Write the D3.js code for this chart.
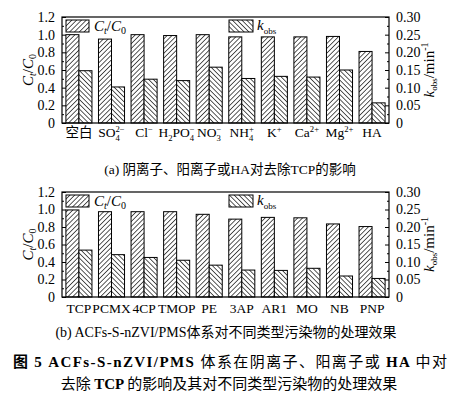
<!DOCTYPE html>
<html><head><meta charset="utf-8">
<script src="https://cdn.jsdelivr.net/npm/d3@7"></script>
<style>
body{margin:0;background:#fff;}
svg{display:block;}
</style></head>
<body>
<svg id="c" width="456" height="407"></svg>
<script>
// ---- data ----
const catsA = ["空白","SO4","Cl","H2PO4","NO3","NH4","K","Ca","Mg","HA"];
const labelsA = [
  {b:"空白"},{b:"SO",sub:"4",sup:"2−"},{b:"Cl",sup:"−"},{b:"H",sub:"2",b2:"PO",sub2:"4",sup2:"−"},
  {b:"NO",sub:"3",sup:"−"},{b:"NH",sub:"4",sup:"+"},{b:"K",sup:"+"},{b:"Ca",sup:"2+"},{b:"Mg",sup:"2+"},{b:"HA"}
];
const ctA   = [1.00,0.95,1.00,0.99,1.00,0.975,0.975,0.975,0.98,0.81];
const kobsA = [0.148,0.102,0.124,0.120,0.158,0.126,0.132,0.130,0.150,0.057];

const catsB = ["TCP","PCMX","4CP","TMOP","PE","3AP","AR1","MO","NB","PNP"];
const ctB   = [0.995,0.975,0.975,0.975,0.945,0.89,0.91,0.905,0.835,0.805];
const kobsB = [0.134,0.121,0.113,0.105,0.091,0.077,0.076,0.082,0.060,0.053];

const leftTicks  = [0,0.2,0.4,0.6,0.8,1.0,1.2];
const rightTicks = [0,0.05,0.10,0.15,0.20,0.25,0.30];

const SERIF = "'Liberation Serif','Times New Roman',serif";
const CJK = "'Liberation Serif','Noto Sans CJK SC',serif";
const CJKS = "'Noto Sans CJK SC',sans-serif";

const svg = d3.select("#c");
const defs = svg.append("defs");
function pat(id, dir){
  const p = defs.append("pattern").attr("id",id).attr("patternUnits","userSpaceOnUse")
    .attr("width",3.4).attr("height",3.4)
    .attr("patternTransform", `rotate(${dir})`);
  p.append("rect").attr("width",3.4).attr("height",3.4).attr("fill","#fff");
  p.append("line").attr("x1",0).attr("y1",0).attr("x2",0).attr("y2",3.4)
    .attr("stroke","#000").attr("stroke-width",1.3);
}
pat("hR",45);   // ////
pat("hL",-45);  // \\\\

function T(sel){ return sel.style("font-family", SERIF).attr("fill","#000"); }

function addLabel(g, x, y, lab, size){
  const grp = g.append("g");
  let cx = 0;
  function seg(txt, dy, fs){
    const t = grp.append("text").attr("x",cx).attr("y",dy).style("font-size",fs+"px")
      .style("font-family", CJK).text(txt);
    return t.node().getComputedTextLength();
  }
  function piece(b, sub, sup){
    if(b){ cx += seg(b,0,size); }
    let w = 0;
    if(sub){ w = Math.max(w, seg(sub, 4, size*0.64)); }
    if(sup){ w = Math.max(w, seg(sup, -5, size*0.64)); }
    cx += w;
  }
  piece(lab.b, lab.sub, lab.sup);
  if(lab.b2) piece(lab.b2, lab.sub2, lab.sup2);
  grp.attr("transform", `translate(${x - cx/2},${y})`);
}

function panel(top, bottom, cats, labels, ct, kobs, labelY, labelSize){
  const L = 62, R = 389;
  const x = d3.scaleBand().domain(cats).range([L,R]).paddingInner(0.2).paddingOuter(0.12);
  const x2 = d3.scaleBand().domain(["ct","k"]).range([0, x.bandwidth()]);
  const yL = d3.scaleLinear().domain([0,1.2]).range([bottom, top]);
  const yR = d3.scaleLinear().domain([0,0.30]).range([bottom, top]);
  const g = svg.append("g");

  // bars
  const grp = g.selectAll("g.grp").data(cats).join("g").attr("transform", d=>`translate(${x(d)},0)`);
  grp.append("rect").attr("x",x2("ct")).attr("width",x2.bandwidth())
    .attr("y",(d,i)=>yL(ct[i])).attr("height",(d,i)=>bottom - yL(ct[i]))
    .attr("fill","url(#hR)").attr("stroke","#000").attr("stroke-width",1);
  grp.append("rect").attr("x",x2("k")).attr("width",x2.bandwidth())
    .attr("y",(d,i)=>yR(kobs[i])).attr("height",(d,i)=>bottom - yR(kobs[i]))
    .attr("fill","url(#hL)").attr("stroke","#000").attr("stroke-width",1);

  // frame
  g.append("rect").attr("x",L).attr("y",top).attr("width",R-L).attr("height",bottom-top)
    .attr("fill","none").attr("stroke","#000").attr("stroke-width",1.2);

  // left axis
  const axL = d3.axisLeft(yL).tickValues(leftTicks).tickSizeInner(-4).tickSizeOuter(0)
    .tickPadding(7).tickFormat(d=> d===0 ? "0" : d3.format(".1f")(d));
  g.append("g").attr("transform",`translate(${L},0)`).call(axL);
  const axLm = d3.axisLeft(yL).tickValues(d3.range(0.1,1.2,0.2)).tickSizeInner(-2).tickSizeOuter(0).tickFormat("");
  g.append("g").attr("transform",`translate(${L},0)`).call(axLm);
  // right axis
  const axR = d3.axisRight(yR).tickValues(rightTicks).tickSizeInner(-4).tickSizeOuter(0)
    .tickPadding(7).tickFormat(d=> d===0 ? "0" : d3.format(".2f")(d));
  g.append("g").attr("transform",`translate(${R},0)`).call(axR);
  const axRm = d3.axisRight(yR).tickValues(d3.range(0.025,0.3,0.05)).tickSizeInner(-2).tickSizeOuter(0).tickFormat("");
  g.append("g").attr("transform",`translate(${R},0)`).call(axRm);
  g.selectAll(".domain").remove();
  g.selectAll(".tick line").attr("stroke","#000");
  g.selectAll(".tick text").style("font-size","14px").style("font-family",SERIF);

  // x labels
  cats.forEach((c,i)=>{
    addLabel(g, x(c)+x.bandwidth()/2, labelY, labels[i], labelSize);
  });

  // y titles
  const midY = (top+bottom)/2;
  const tl = T(g.append("text")).attr("transform",`translate(33,${midY}) rotate(-90)`)
    .attr("text-anchor","middle").style("font-size","15px");
  tl.append("tspan").attr("font-style","italic").text("C");
  tl.append("tspan").attr("font-style","italic").style("font-size","10px").attr("dy",3).text("t");
  tl.append("tspan").attr("dy",-3).text("/");
  tl.append("tspan").attr("font-style","italic").text("C");
  tl.append("tspan").style("font-size","10px").attr("dy",3).text("0");

  const tr = T(g.append("text")).attr("transform",`translate(434,${midY}) rotate(-90)`)
    .attr("text-anchor","middle").style("font-size","15px");
  tr.append("tspan").attr("font-style","italic").text("k");
  tr.append("tspan").style("font-size","9px").attr("dy",3).text("obs");
  tr.append("tspan").attr("dy",-3).text("/min");
  tr.append("tspan").style("font-size","10px").attr("dy",-6).text("-1");

  // legend
  g.append("rect").attr("x",66).attr("y",top+3).attr("width",23).attr("height",12)
    .attr("fill","url(#hR)").attr("stroke","#000");
  const t1 = T(g.append("text")).attr("x",94).attr("y",top+14).style("font-size","15px");
  t1.append("tspan").attr("font-style","italic").text("C");
  t1.append("tspan").attr("font-style","italic").style("font-size","10px").attr("dy",3).text("t");
  t1.append("tspan").attr("dy",-3).text("/");
  t1.append("tspan").attr("font-style","italic").text("C");
  t1.append("tspan").style("font-size","10px").attr("dy",3).text("0");
  g.append("rect").attr("x",229).attr("y",top+3).attr("width",24).attr("height",12)
    .attr("fill","url(#hL)").attr("stroke","#000");
  const t2 = T(g.append("text")).attr("x",257).attr("y",top+13).style("font-size","15px");
  t2.append("tspan").attr("font-style","italic").text("k");
  t2.append("tspan").style("font-size","9px").attr("dy",4).text("obs");
}

panel(17, 123, catsA, labelsA, ctA, kobsA, 137, 13.5);
panel(192, 297, catsB, catsB.map(c=>({b:c})), ctB, kobsB, 313, 13.5);

// captions
svg.append("text").attr("x",230).attr("y",174).attr("text-anchor","middle").style("font-size","13.5px")
  .style("font-family",CJK).text("(a) 阴离子、阳离子或HA对去除TCP的影响");
svg.append("text").attr("x",226).attr("y",337).attr("text-anchor","middle").style("font-size","14px")
  .style("font-family",CJK).text("(b) ACFs-S-nZVI/PMS体系对不同类型污染物的处理效果");

const cap1 = svg.append("text").attr("x",13).attr("y",367).style("font-size","15px")
  .style("font-family",CJK).attr("textLength",434).attr("lengthAdjust","spacing");
cap1.append("tspan").attr("font-weight","bold").style("font-family",CJKS).text("图 ");
cap1.append("tspan").attr("font-weight","bold").text("5    ACFs-S-nZVI/PMS ");
cap1.append("tspan").style("font-family",CJKS).text("体系在阴离子、阳离子或 ");
cap1.append("tspan").attr("font-weight","bold").text("HA ");
cap1.append("tspan").style("font-family",CJKS).text("中对");
const cap2 = svg.append("text").attr("x",229).attr("y",389).attr("text-anchor","middle").style("font-size","15px")
  .style("font-family",CJK);
cap2.append("tspan").style("font-family",CJKS).text("去除 ");
cap2.append("tspan").attr("font-weight","bold").text("TCP ");
cap2.append("tspan").style("font-family",CJKS).text("的影响及其对不同类型污染物的处理效果");
</script>
</body></html>
